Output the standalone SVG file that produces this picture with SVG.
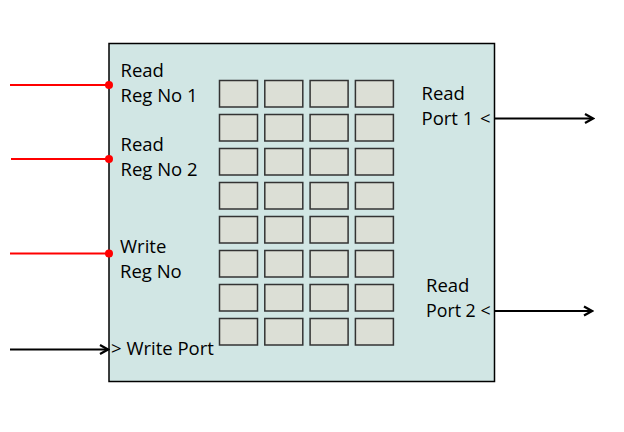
<svg xmlns="http://www.w3.org/2000/svg" width="624" height="432" viewBox="0 0 624 432">
<style>
.t{font-family:"Open Sans","Liberation Sans",sans-serif;font-size:18.5px;fill:#000}
.c{fill:#dcdfd6;stroke:#333;stroke-width:1.5}
.red{stroke:#ff0000;stroke-width:2;fill:none}
.blk{stroke:#000;stroke-width:2.2;fill:none}
</style>
<defs>
<marker id="ah" viewBox="0 0 12 12" refX="10" refY="6" markerWidth="12" markerHeight="12" markerUnits="userSpaceOnUse" orient="auto">
<polyline points="2,1.5 10,6 2,10.5" fill="none" stroke="#000" stroke-width="2.2"/>
</marker>
</defs>
<g id="register-file">
<rect x="109" y="43.5" width="385.5" height="338" fill="#d1e6e4" stroke="#000" stroke-width="1.5"/>
</g>
<g id="cells">
<g id="row1"><rect class="c" x="219.5" y="80.5" width="38" height="26.5"/><rect class="c" x="264.8" y="80.5" width="38" height="26.5"/><rect class="c" x="310.1" y="80.5" width="38" height="26.5"/><rect class="c" x="355.4" y="80.5" width="38" height="26.5"/></g>
<g id="row2"><rect class="c" x="219.5" y="114.5" width="38" height="26.5"/><rect class="c" x="264.8" y="114.5" width="38" height="26.5"/><rect class="c" x="310.1" y="114.5" width="38" height="26.5"/><rect class="c" x="355.4" y="114.5" width="38" height="26.5"/></g>
<g id="row3"><rect class="c" x="219.5" y="148.5" width="38" height="26.5"/><rect class="c" x="264.8" y="148.5" width="38" height="26.5"/><rect class="c" x="310.1" y="148.5" width="38" height="26.5"/><rect class="c" x="355.4" y="148.5" width="38" height="26.5"/></g>
<g id="row4"><rect class="c" x="219.5" y="182.5" width="38" height="26.5"/><rect class="c" x="264.8" y="182.5" width="38" height="26.5"/><rect class="c" x="310.1" y="182.5" width="38" height="26.5"/><rect class="c" x="355.4" y="182.5" width="38" height="26.5"/></g>
<g id="row5"><rect class="c" x="219.5" y="216.5" width="38" height="26.5"/><rect class="c" x="264.8" y="216.5" width="38" height="26.5"/><rect class="c" x="310.1" y="216.5" width="38" height="26.5"/><rect class="c" x="355.4" y="216.5" width="38" height="26.5"/></g>
<g id="row6"><rect class="c" x="219.5" y="250.5" width="38" height="26.5"/><rect class="c" x="264.8" y="250.5" width="38" height="26.5"/><rect class="c" x="310.1" y="250.5" width="38" height="26.5"/><rect class="c" x="355.4" y="250.5" width="38" height="26.5"/></g>
<g id="row7"><rect class="c" x="219.5" y="284.5" width="38" height="26.5"/><rect class="c" x="264.8" y="284.5" width="38" height="26.5"/><rect class="c" x="310.1" y="284.5" width="38" height="26.5"/><rect class="c" x="355.4" y="284.5" width="38" height="26.5"/></g>
<g id="row8"><rect class="c" x="219.5" y="318.5" width="38" height="26.5"/><rect class="c" x="264.8" y="318.5" width="38" height="26.5"/><rect class="c" x="310.1" y="318.5" width="38" height="26.5"/><rect class="c" x="355.4" y="318.5" width="38" height="26.5"/></g>
</g>
<g id="labels">
<text class="t" x="120.5" y="77">Read</text>
<text class="t" x="120.5" y="102">Reg No 1</text>
<text class="t" x="120.5" y="151">Read</text>
<text class="t" x="120.5" y="175.5">Reg No 2</text>
<text class="t" x="120" y="252.5">Write</text>
<text class="t" x="120" y="277.5">Reg No</text>
<text class="t" x="111" y="354.5">&gt; Write Port</text>
<text class="t" x="421.5" y="99.5">Read</text>
<text class="t" x="421.5" y="124.5">Port 1 <tspan x="480">&lt;</tspan></text>
<text class="t" x="426" y="292">Read</text>
<text class="t" x="426" y="317" style="font-size:17.8px">Port 2 &lt;</text>
</g>
<g id="connectors">
<line class="red" x1="10" y1="85" x2="109" y2="85"/>
<circle cx="109" cy="85" r="4" fill="#ff0000"/>
<line class="red" x1="11" y1="159" x2="109" y2="159"/>
<circle cx="109" cy="159" r="4" fill="#ff0000"/>
<line class="red" x1="10" y1="253.5" x2="109" y2="253.5"/>
<circle cx="109" cy="253.5" r="4" fill="#ff0000"/>
<line class="blk" x1="10" y1="349.5" x2="108" y2="349.5" marker-end="url(#ah)"/>
<line class="blk" x1="495" y1="118.5" x2="593" y2="118.5" marker-end="url(#ah)"/>
<line class="blk" x1="495" y1="311" x2="592" y2="311" marker-end="url(#ah)"/>
</g>
</svg>
